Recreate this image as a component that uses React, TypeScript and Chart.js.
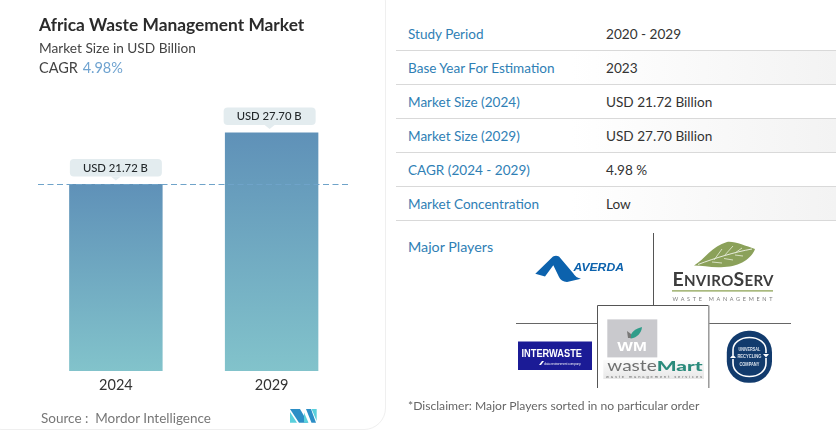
import React, { useEffect, useRef } from "react";
import { Chart, registerables } from "chart.js";

Chart.register(...registerables);

const categories = ["2024", "2029"];
const marketSize = [21.72, 27.7];
const valueLabels = ["USD 21.72 B", "USD 27.70 B"];
const tableLabels = ["Study Period", "Base Year For Estimation", "Market Size (2024)", "Market Size (2029)", "CAGR (2024 - 2029)", "Market Concentration"];
const tableValues = ["2020 - 2029", "2023", "USD 21.72 Billion", "USD 27.70 Billion", "4.98 %", "Low"];

const FONT = "Lato, 'Open Sans', sans-serif";

const annotations = {
  id: "annotations",
  afterDatasetsDraw(chart: any) {
    const { ctx, chartArea, scales } = chart;
    const yRef = Math.round(scales.y.getPixelForValue(marketSize[0])) + 0.5;
    ctx.save();
    ctx.strokeStyle = "#6fa3c9";
    ctx.lineWidth = 1;
    ctx.setLineDash([6, 3.5]);
    ctx.beginPath();
    ctx.moveTo(chartArea.left, yRef);
    ctx.lineTo(chartArea.right, yRef);
    ctx.stroke();
    ctx.setLineDash([]);
    const meta = chart.getDatasetMeta(0);
    meta.data.forEach((bar: any, i: number) => {
      const w = 92;
      const h = 17.5;
      const cx = bar.x - (i === 1 ? 2 : 0);
      const left = cx - w / 2;
      const top = bar.y - 25;
      ctx.fillStyle = "#e3ecef";
      ctx.beginPath();
      ctx.roundRect(left, top, w, h, 4);
      ctx.fill();
      ctx.beginPath();
      ctx.moveTo(cx - 5, top + h);
      ctx.lineTo(cx, top + h + 4);
      ctx.lineTo(cx + 5, top + h);
      ctx.closePath();
      ctx.fill();
      ctx.fillStyle = "#23282b";
      ctx.font = `500 11.3px ${FONT}`;
      ctx.textAlign = "center";
      ctx.textBaseline = "middle";
      ctx.fillText(valueLabels[i], cx - 0.5, top + h / 2 + 0.5);
    });
    ctx.restore();
  },
};

const abs = (left: number, top: number, extra: React.CSSProperties = {}): React.CSSProperties => ({
  position: "absolute",
  left,
  top,
  whiteSpace: "nowrap",
  ...extra,
});

function Logos() {
  return (
    <svg width={836} height={430} style={{ position: "absolute", left: 0, top: 0 }}>
      <defs>
        <linearGradient id="strip" x1="0" x2="0" y1="0" y2="1">
          <stop offset="0" stopColor="#fbfbfb" />
          <stop offset="1" stopColor="#e8e8e8" />
        </linearGradient>
      </defs>
      <g stroke="#555" strokeWidth={1} fill="none">
        <path d="M653.5 233V305" />
        <path d="M516 323.5H597.5M709 323.5H791" stroke="#666" />
        <path d="M597.5 388V305.5H708.5" />
        <path d="M708.8 305.5V388" stroke="#999" strokeWidth={1.5} />
      </g>
      {/* Averda */}
      <path d="M535.3 273.7 L553 256.5 Q556 255 559 256.5 L573 273 Q576 278 581 278.7 L567 282 Q561 281.5 559 277 L553.3 265.3 L545 276.5 Z" fill="#0c62ad" />
      <text x={573.5} y={271.3} fontFamily="Liberation Sans" fontWeight={700} fontStyle="italic" fontSize={11.5} textLength={50.5} lengthAdjust="spacingAndGlyphs" fill="#0c62ad">AVERDA</text>
      {/* EnviroServ */}
      <path d="M694 265.5 C705 259 712 246 727 242 C735 241 745 246 755 249 C752 258 740 266.5 724 267 C712 268 703 265.5 694 265.5 Z" fill="#8ba15a" />
      <path d="M698 264.5 C715 258 735 252 752 249" stroke="#fff" strokeWidth={0.8} fill="none" />
      <path d="M714 260 L722 249 M724 256 L733 246 M735 253 L742 248 M712 262 L722 263 M724 258.5 L733 260 M735 255 L743 256" stroke="#dfe6cd" strokeWidth={0.9} fill="none" />
      <text x={672.5} y={286} fontFamily="Lato" fontWeight={700} fill="#3d3d3d" textLength={101} fontSize={15}>
        <tspan fontSize={19.5}>E</tspan>NVIRO<tspan fontSize={19.5}>S</tspan>ERV
      </text>
      <rect x={672} y={290} width={101} height={1.7} fill="#a9b97e" />
      <text x={672.5} y={301} fontFamily="Lato" fontSize={5.5} textLength={100} fill="#7a7a7a">WASTE MANAGEMENT</text>
      {/* Interwaste */}
      <rect x={518} y={341.5} width={74} height={28.5} fill="#1b1b96" />
      <text x={521.5} y={356.7} fontFamily="Liberation Sans" fontWeight={700} fontSize={11.5} textLength={60.5} lengthAdjust="spacingAndGlyphs" fill="#fff">INTERWASTE</text>
      <path d="M539 365 L542 361 H544 L541 365 Z" fill="#fff" />
      <text x={544} y={365} fontFamily="Liberation Sans" fontSize={3.8} textLength={37} fill="#dde">data environment company</text>
      {/* wasteMart */}
      <rect x={607.3} y={319.4} width={50} height={38} fill="#c9c9cd" />
      <path d="M630 338 C630.5 332 636 328.5 642 327 C641.5 333 637 337.5 631 338.5 Z" fill="#2f9d8a" />
      <path d="M627 331 L631 334 L631 338 L628 338 Z" fill="#777" />
      <text x={632} y={350.7} textAnchor="middle" fontFamily="Liberation Sans" fontWeight={700} fontSize={13} textLength={29.5} lengthAdjust="spacingAndGlyphs" fill="#fff">WM</text>
      <rect x={603.3} y={360} width={100.7} height={19} fill="url(#strip)" />
      <text x={607.3} y={370.7} fontFamily="Lato" fontSize={16} textLength={49.4} lengthAdjust="spacingAndGlyphs" fill="#6f7070">waste</text>
      <text x={656.7} y={370.7} fontFamily="Lato" fontWeight={900} fontSize={14} textLength={46} lengthAdjust="spacingAndGlyphs" fill="#2a8a7b">Mart</text>
      <text x={606} y={378} fontFamily="Liberation Sans" fontSize={4} textLength={96} fill="#666">waste management services</text>
      {/* Universal Recycling */}
      <rect x={726.8} y={330.8} width={45.2} height={52} rx={21.5} fill="#123b6d" />
      <path d="M733 355 V350 C733 343 740 337.5 749.4 337.5 C759 337.5 766 343 766 350 V353" fill="none" stroke="#fff" strokeWidth={1.6} />
      <path d="M733 359 V363 C733 371 740 376.5 749.4 376.5 C759 376.5 766 371 766 363 V358" fill="none" stroke="#fff" strokeWidth={1.6} />
      <path d="M730 358 H736 L733 354.5 Z M763 354 H769 L766 357.5 Z" fill="#fff" />
      <g fontFamily="Liberation Sans" fontWeight={700} fontSize={4.8} fill="#d8e0ea" textAnchor="middle">
        <text x={749.4} y={350.5} textLength={22} lengthAdjust="spacingAndGlyphs">UNIVERSAL</text>
        <text x={749.4} y={358} textLength={24} lengthAdjust="spacingAndGlyphs">RECYCLING</text>
        <text x={749.4} y={365.5} textLength={20} lengthAdjust="spacingAndGlyphs">COMPANY</text>
      </g>
      {/* Mordor */}
      <g>
        <path d="M290 409H300L308 422.7H299Z" fill="#2c8ec6" />
        <path d="M290 412L297 422.7H290Z" fill="#5ad0dc" />
        <path d="M304 412.5L308.5 422.7H304Z" fill="#5ad0dc" />
        <path d="M306 409H311L316 422.7H311.5Z" fill="#2c8ec6" />
        <path d="M311.5 409H316.7V421Z" fill="#5ad0dc" />
      </g>
    </svg>
  );
}

export default function App() {
  const canvasRef = useRef<HTMLCanvasElement>(null);

  useEffect(() => {
    document.body.style.margin = "0";
    const chart = new Chart(canvasRef.current!, {
      type: "bar",
      data: {
        labels: categories,
        datasets: [
          {
            data: marketSize,
            barPercentage: 0.6,
            categoryPercentage: 1,
            backgroundColor: (c: any) => {
              const { ctx, chartArea, scales } = c.chart;
              if (!chartArea) return "#6fa3c0";
              const v = c.raw as number;
              const g = ctx.createLinearGradient(0, scales.y.getPixelForValue(v), 0, scales.y.getPixelForValue(0));
              g.addColorStop(0, "#5f91b8");
              g.addColorStop(1, "#82c3cb");
              return g;
            },
          },
        ],
      },
      options: {
        animation: false,
        responsive: false,
        layout: { padding: { left: 38, right: 35.5, top: 0, bottom: 0 } },
        plugins: { legend: { display: false }, tooltip: { enabled: false } },
        scales: {
          x: {
            grid: { display: false, drawTicks: false },
            border: { display: false },
            ticks: { color: "#333", font: { family: FONT, size: 14.5 }, padding: 5.5 },
            afterFit: (s: any) => {
              s.height = 59;
            },
          },
          y: { display: false, min: 0, max: 43.1 },
        },
      },
      plugins: [annotations],
    });
    return () => chart.destroy();
  }, []);

  return (
    <div style={{ position: "fixed", left: 0, top: 0, width: 836, height: 430, overflow: "hidden", background: "#fff", fontFamily: FONT }}>
      <div style={{ position: "absolute", left: -20, top: -20, width: 405.5, height: 450, border: "1px solid #efefef", borderRadius: 22, boxSizing: "border-box" }} />
      <canvas ref={canvasRef} width={385} height={430} style={{ position: "absolute", left: 0, top: 0 }} />
      <div style={abs(39, 14, { fontSize: 17.35, fontWeight: 700, color: "#2b2b2b", lineHeight: "22px" })}>Africa Waste Management Market</div>
      <div style={abs(39, 38, { fontSize: 13.7, color: "#444", lineHeight: "20px" })}>Market Size in USD Billion</div>
      <div style={abs(39, 58, { fontSize: 14.5, color: "#444", lineHeight: "20px" })}>
        CAGR <span style={{ color: "#6fa3d0", marginLeft: 1 }}>4.98%</span>
      </div>
      <div style={abs(41, 409, { fontSize: 13.5, color: "#777", lineHeight: "18px" })}>Source :&nbsp; Mordor Intelligence</div>

      {tableLabels.map((label, i) => (
        <div
          key={label}
          style={{
            position: "absolute",
            left: 396,
            top: 17 + i * 34,
            width: 440,
            height: 34,
            boxSizing: "border-box",
            borderBottom: "1px solid #d9d9d9",
            background: i % 2 === 1 ? "linear-gradient(90deg,#fff 40%,#f3f3f3 100%)" : "#fff",
          }}
        >
          <span style={{ position: "absolute", left: 12, top: 7, fontSize: 13.55, lineHeight: "20px", color: "#2f80b5", whiteSpace: "nowrap" }}>{label}</span>
          <span style={{ position: "absolute", left: 210, top: 7, fontSize: 13.6, lineHeight: "20px", color: "#333", whiteSpace: "nowrap" }}>{tableValues[i]}</span>
        </div>
      ))}
      <div style={abs(408, 237, { fontSize: 14.3, lineHeight: "20px", color: "#2f80b5" })}>Major Players</div>
      <Logos />
      <div style={abs(408, 397, { fontSize: 12.15, lineHeight: "18px", color: "#666" })}>*Disclaimer: Major Players sorted in no particular order</div>
    </div>
  );
}
